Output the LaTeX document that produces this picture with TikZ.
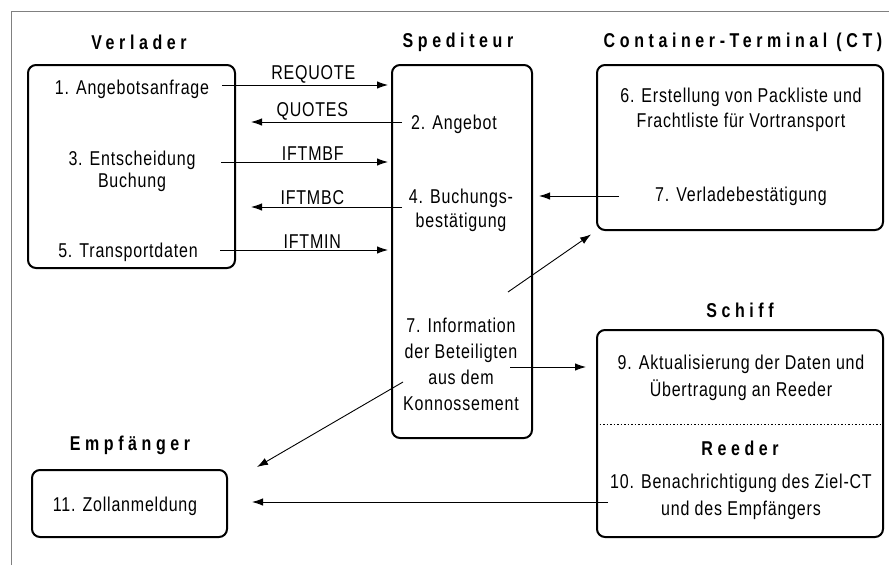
\documentclass[tikz,border=0pt]{standalone}
\usepackage{fontspec}
\setmainfont{Liberation Sans}[FakeStretch=0.8, LetterSpace=4]
\usetikzlibrary{arrows.meta, positioning}
\tikzset{->,  % every connector is an arrow
>={Latex[length=11pt, width=7.5pt]}, % filled arrow heads
party/.style={draw, -, line width=2pt, rounded corners=8pt, inner sep=0pt}, % box of one party
partyname/.style={font={\fontsize{20}{24}\selectfont\bfseries\addfontfeature{LetterSpace=23}}}, % bold name above a box
task/.style={align=center, inner sep=2pt, font={\fontsize{20}{26}\selectfont}}, % numbered step inside a box
msg/.style={above, pos=0.54, inner sep=1.5pt, font={\fontsize{20}{24}\selectfont}}, % message type over an arrow
flow/.style={line width=0.9pt}, % arrow between parties
}

\begin{document}
\begin{tikzpicture}[x=1pt, y=-1pt]
    \useasboundingbox (0,0) rectangle (889,565);
    \draw[-, gray, line width=1pt] (11,565) -- (11,11.5) -- (889,11.5);

    % boxes of the parties
    \node[party, minimum width=207, minimum height=203] (verl) at (131.5,166.5) {};
    \node[party, minimum width=140, minimum height=373] (sped) at (462,251.5) {};
    \node[party, minimum width=286, minimum height=165] (ct) at (740,147.5) {};
    \node[party, minimum width=286, minimum height=207] (schiff) at (740,433.5) {};
    \node[party, minimum width=195, minimum height=67] (empf) at (129.5,503.5) {};
    \draw[-, line width=0.8pt, dash pattern=on 1.5pt off 2pt] ([yshift=9.5pt]schiff.west) -- ([yshift=9.5pt]schiff.east);

    % names of the parties
    \node[partyname] (verlN) at (139,42) {Verlader};
    \node[partyname] (spedN) at (458,42) {Spediteur};
    \node[partyname] (ctN) at (743,42) {Container-Terminal (CT)};
    \node[partyname] (schiffN) at (740,310) {Schiff};
    \node[partyname] (reedN) at (740,448) {Reeder};
    \node[partyname] (empfN) at (130,445) {Empfänger};

    % steps
    \node[task] (t1) at (132,89) {1. Angebotsanfrage};
    \node[task] (t2) at (454,124) {2. Angebot};
    \node[task] (t3) at (132,171) {3. Entscheidung\\[-4pt]Buchung};
    \node[task] (t4) at (461,210) {4. Buchungs-\\[-2pt]bestätigung};
    \node[task] (t5) at (128,252) {5. Transportdaten};
    \node[task] (t6) at (741,110) {6. Erstellung von Packliste und\\[-1pt]Frachtliste für Vortransport};
    \node[task] (t7) at (741,196) {7. Verladebestätigung};
    \node[task] (t8) at (461,364) {7. Information\\der Beteiligten\\aus dem\\Konnossement};
    \node[task] (t9) at (741,378) {9. Aktualisierung der Daten und\\[1pt]Übertragung an Reeder};
    \node[task] (t10) at (741,496.5) {10. Benachrichtigung des Ziel-CT\\[1pt]und des Empfängers};
    \node[task] (t11) at (125,506) {11. Zollanmeldung};

    % free ends of the arrows
    \coordinate (rq) at (222,85);
    \coordinate (qu) at (402,122);
    \coordinate (bf) at (221,162);
    \coordinate (bc) at (402,207);
    \coordinate (mi) at (220,250);
    \coordinate (vb) at (619,196);
    \coordinate (up) at (508,292);
    \coordinate (in) at (510,367);
    \coordinate (dn) at (403,382);
    \coordinate (dnEnd) at (257,467);
    \coordinate (bn) at (608,502);

    % messages
    \path[flow, shorten >=3pt] (rq) edge node[msg]{REQUOTE} (rq -| sped.west)
    (bf) edge node[msg]{IFTMBF} (bf -| sped.west)
    (mi) edge node[msg]{IFTMIN} (mi -| sped.west);
    \path[flow, shorten >=15pt] (qu) edge node[msg]{QUOTES} (qu -| verl.east)
    (bc) edge node[msg]{IFTMBC} (bc -| verl.east);
    \path[flow, shorten >=6pt] (vb) edge (vb -| sped.east)
    (up) edge (ct.south west);
    \path[flow, shorten >=10pt] (in) edge (in -| schiff.west);
    \path[flow] (dn) edge (dnEnd);
    \path[flow, shorten >=24pt] (bn) edge (bn -| empf.east);
\end{tikzpicture}
\end{document}
